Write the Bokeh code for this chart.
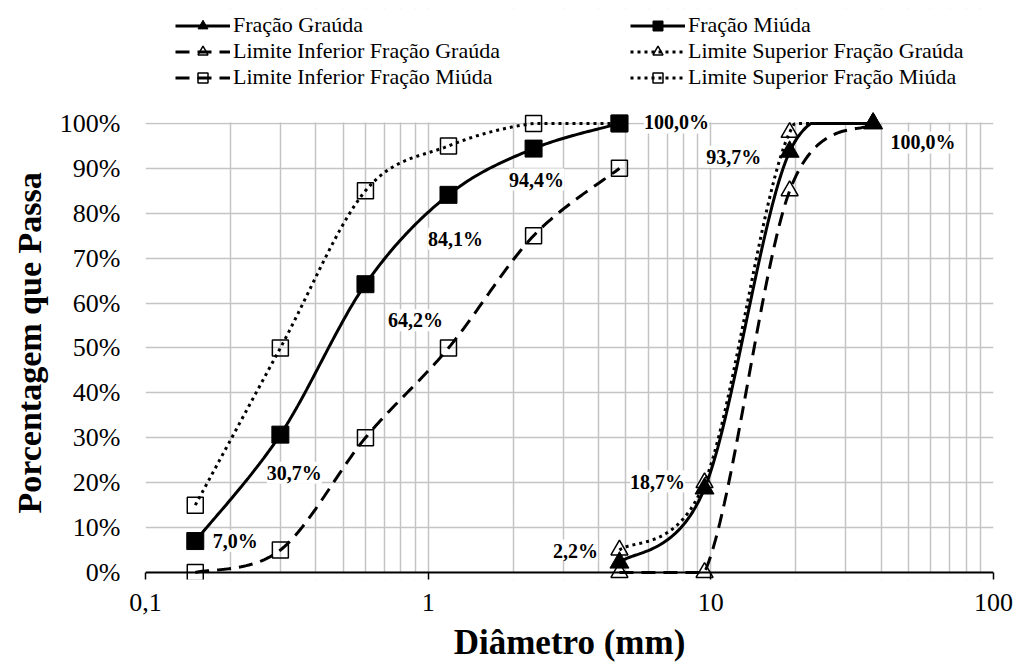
import numpy as np
from bokeh.plotting import figure
from bokeh.models import (Range1d, FixedTicker, CustomJSTickFormatter, Legend, LegendItem,
                          LabelSet, ColumnDataSource, BoxAnnotation, Span, Title)
from bokeh.embed import file_html
from bokeh.resources import INLINE

# ---------------- data ----------------
peneiras_graudo = [4.75, 9.5, 19.0, 37.5]
peneiras_miudo = [0.15, 0.3, 0.6, 1.18, 2.36, 4.75]
fracao_grauda = [2.2, 18.7, 93.7, 100.0]
fracao_miuda = [7.0, 30.7, 64.2, 84.1, 94.4, 100.0]
lim_inf_grauda = [0.0, 0.0, 85.0, 100.0]
lim_sup_grauda = [5.0, 20.0, 98.0, 100.0]
lim_inf_miuda = [0.0, 5.0, 30.0, 50.0, 75.0, 90.0]
lim_sup_miuda = [15.0, 50.0, 85.0, 95.0, 100.0, 100.0]

x_ticks = [0.1, 1, 10, 100]
x_tick_labels = ["0,1", "1", "10", "100"]
y_ticks = [0, 10, 20, 30, 40, 50, 60, 70, 80, 90, 100]
y_tick_labels = ["0%", "10%", "20%", "30%", "40%", "50%", "60%", "70%", "80%", "90%", "100%"]

# ---------------- style ----------------
FONT = "Liberation Serif"
GRID = "#c4c4c4"
W, H = 1018, 664
SX, SY = 282.7, 4.49  # screen scale used for Excel-like smoothing


def smooth(xs, ys, n=40):
    P = np.column_stack([np.log10(xs) * SX, np.asarray(ys, float) * SY])
    m = len(P)
    out = [P[0]]
    t = np.linspace(0, 1, n)[1:, None]
    for i in range(m - 1):
        p0 = P[max(i - 1, 0)]
        p1 = P[i]
        p2 = P[i + 1]
        p3 = P[min(i + 2, m - 1)]
        c1 = p1 + (p2 - p0) / 6.0
        c2 = p2 - (p3 - p1) / 6.0
        seg = (1 - t) ** 3 * p1 + 3 * (1 - t) ** 2 * t * c1 + 3 * (1 - t) * t ** 2 * c2 + t ** 3 * p2
        out.extend(seg)
    out = np.array(out)
    return 10 ** (out[:, 0] / SX), np.clip(out[:, 1] / SY, 0, 100)


# frame spans page y 8..579; 0% at 572, 100% at 123
p = figure(width=W, height=H, x_axis_type="log",
           x_range=Range1d(0.1, 100), y_range=Range1d(-1.56, 125.6),
           output_backend="svg", toolbar_location=None,
           min_border_left=145, min_border_right=25, min_border_top=8, min_border_bottom=85)
p.outline_line_color = None
p.background_fill_color = "white"

# ticks / grid
minor = [m * 10.0 ** e for e in (-1, 0, 1) for m in range(2, 10)]
xt = FixedTicker(ticks=x_ticks, minor_ticks=minor)
yt = FixedTicker(ticks=y_ticks)
xa = p.xaxis[0]
ya = p.yaxis[0]
xa.ticker = xt
ya.ticker = yt
p.xgrid.ticker = xt
p.ygrid.ticker = yt
p.xgrid.grid_line_color = GRID
p.xgrid.grid_line_width = 1.5
p.xgrid.minor_grid_line_color = GRID
p.xgrid.minor_grid_line_width = 1.5
p.ygrid.grid_line_color = GRID
p.ygrid.grid_line_width = 1.5

# masks hiding grid stubs outside 0..100, and the 0% axis line
p.add_layout(BoxAnnotation(bottom=100.2, fill_color="white", fill_alpha=1, line_color=None, level="underlay"))
p.add_layout(BoxAnnotation(top=0, fill_color="white", fill_alpha=1, line_color=None, level="underlay"))
p.add_layout(Span(location=0, dimension="width", line_color="black", line_width=2, level="underlay"))

xa.formatter = CustomJSTickFormatter(args=dict(tv=x_ticks, labs=x_tick_labels), code="""
const i = tv.findIndex(t => Math.abs(Math.log10(t) - Math.log10(tick)) < 1e-6);
return i >= 0 ? labs[i] : '';
""")
ya.formatter = CustomJSTickFormatter(args=dict(tv=y_ticks, labs=y_tick_labels), code="""
const i = tv.findIndex(t => Math.abs(t - tick) < 1e-6);
return i >= 0 ? labs[i] : '';
""")

xa.axis_line_color = None
xa.major_tick_in = 7
xa.major_tick_out = 0
xa.major_tick_line_width = 1.5
xa.major_tick_line_color = "black"
xa.minor_tick_line_color = None
xa.major_label_standoff = 10
xa.major_label_text_font = FONT
xa.major_label_text_font_size = "26px"
xa.major_label_text_color = "black"
xa.axis_label = "Diâmetro (mm)"
xa.axis_label_text_font = FONT
xa.axis_label_text_font_style = "bold"
xa.axis_label_text_font_size = "35px"
xa.axis_label_text_color = "black"
xa.axis_label_standoff = 9

ya.axis_line_color = None
ya.major_tick_line_color = None
ya.minor_tick_line_color = None
ya.major_tick_out = 0
ya.major_tick_in = 0
ya.major_label_standoff = 25
ya.major_label_text_font = FONT
ya.major_label_text_font_size = "26px"
ya.major_label_text_color = "black"

p.add_layout(Title(text="Porcentagem que Passa", align="left", offset=66, standoff=17,
                   text_font=FONT, text_font_style="bold", text_font_size="34px",
                   text_color="black"), "left")

# ---------------- series ----------------
series = [
    ("Fração Graúda", peneiras_graudo, fracao_grauda, "solid", "triangle", "black", 19, 1),
    ("Fração Miúda", peneiras_miudo, fracao_miuda, "solid", "square", "black", 17, 1),
    ("Limite Inferior Fração Graúda", peneiras_graudo, lim_inf_grauda, "14 8", "triangle", None, 17, 1.5),
    ("Limite Superior Fração Graúda", peneiras_graudo, lim_sup_grauda, "3 4", "triangle", None, 17, 1.5),
    ("Limite Inferior Fração Miúda", peneiras_miudo, lim_inf_miuda, "14 8", "square", None, 16, 1.5),
    ("Limite Superior Fração Miúda", peneiras_miudo, lim_sup_miuda, "3 4", "square", None, 16, 1.5),
]

items = []
for name, xs, ys, dash, marker, fill, size, lw in series:
    sx, sy = smooth(xs, ys)
    lr = p.line(sx, sy, line_color="black", line_width=3, line_dash=dash)
    mr = p.scatter(xs, ys, marker=marker, size=size, line_color="black", line_width=lw,
                   fill_color=fill, fill_alpha=1 if fill else 0)
    items.append(LegendItem(label=name, renderers=[lr, mr]))

leg_style = dict(label_text_font=FONT, label_text_font_size="22px", label_text_color="black",
                 glyph_width=55, glyph_height=25, label_height=25, spacing=0, padding=0, margin=0,
                 label_standoff=3, border_line_color=None, background_fill_alpha=0)
p.add_layout(Legend(items=[items[0], items[2], items[4]], location=(30, 489), **leg_style))
p.add_layout(Legend(items=[items[1], items[3], items[5]], location=(485, 489), **leg_style))

# ---------------- data labels ----------------
lab_x = peneiras_miudo + peneiras_graudo
lab_y = fracao_miuda + fracao_grauda
lab_text = [("%.1f%%" % v).replace(".", ",") for v in lab_y]
lab_xo = [40, 14, 50, 7, 3, 57, -44, -47, -56, 50]
lab_yo = [0, -38, -36, -44, -31, 1, 12, 7, -5, -19]
src = ColumnDataSource(dict(x=lab_x, y=lab_y, text=lab_text, xo=lab_xo, yo=lab_yo))
p.add_layout(LabelSet(x="x", y="y", text="text", x_offset="xo", y_offset="yo", source=src,
                      text_font=FONT, text_font_style="bold", text_font_size="20px",
                      text_color="black", text_align="center", text_baseline="middle",
                      background_fill_color="white"))

open("out.html", "w").write(file_html(p, INLINE))
